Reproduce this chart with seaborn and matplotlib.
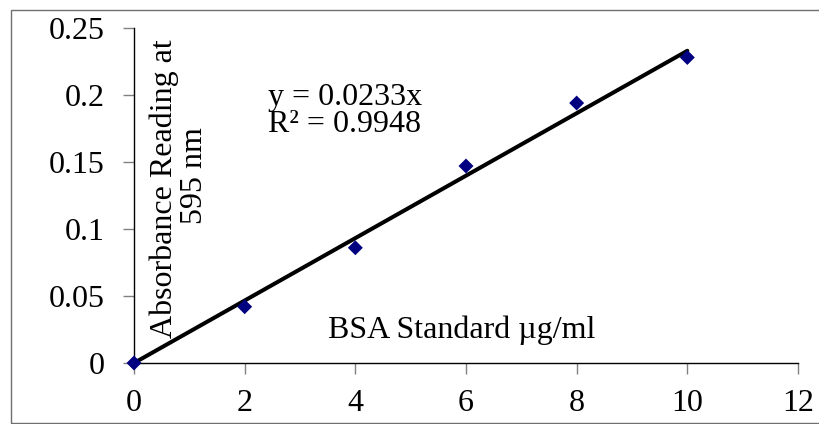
import matplotlib
matplotlib.use("Agg")
import matplotlib.pyplot as plt
import seaborn as sns
import pandas as pd
from matplotlib.patches import Rectangle

concentration = [0, 2, 4, 6, 8, 10]
absorbance = [0.0, 0.042, 0.086, 0.147, 0.194, 0.228]
slope = 0.0233
fit_x = [0, 10]
x_ticks = [0, 2, 4, 6, 8, 10, 12]
y_ticks = [0, 0.05, 0.1, 0.15, 0.2, 0.25]
y_tick_labels = ["0", "0.05", "0.1", "0.15", "0.2", "0.25"]

sns.set_style("white")
plt.rcParams['font.family'] = ['Liberation Serif', 'DejaVu Serif']
plt.rcParams['text.color'] = 'black'

df = pd.DataFrame({"x": concentration, "y": absorbance})
fit_df = pd.DataFrame({"x": fit_x, "y": [slope * v for v in fit_x]})

W, H = 820, 424
fig = plt.figure(figsize=(W / 100, H / 100), dpi=100)
ax = fig.add_axes([134 / W, 1 - 363 / H, (798 - 134) / W, (363 - 28) / H])

sns.lineplot(data=fit_df, x="x", y="y", ax=ax, color="black", linewidth=2.9,
             solid_capstyle="round", zorder=2)
sns.scatterplot(data=df, x="x", y="y", ax=ax, marker="D", color="#000080", s=58,
                edgecolor="none", zorder=3, clip_on=False)

ax.set_xlim(0, 12)
ax.set_ylim(0, 0.25)
ax.set_xticks(x_ticks)
ax.set_xticklabels([str(v) for v in x_ticks])
ax.set_yticks(y_ticks)
ax.set_yticklabels(y_tick_labels)
ax.set_xlabel("")
ax.set_ylabel("")

for s in ["top", "right"]:
    ax.spines[s].set_visible(False)
for s in ["left", "bottom"]:
    ax.spines[s].set_color("black")
    ax.spines[s].set_linewidth(1.0)

ax.tick_params(axis="both", direction="out", length=8, width=1, color="#808080",
               labelsize=23, labelcolor="black", bottom=True, left=True)
ax.tick_params(axis="y", pad=13)
ax.tick_params(axis="x", pad=11)


def px(x, y):
    return (x / W, 1 - y / H)


fig.text(*px(172, 189), "Absorbance Reading at", rotation=90, rotation_mode="anchor",
         ha="center", va="baseline", fontsize=23, color="black")
fig.text(*px(202, 176), "595 nm", rotation=90, rotation_mode="anchor",
         ha="center", va="baseline", fontsize=23, color="black")
fig.text(*px(268, 105), "y = 0.0233x", ha="left", va="baseline", fontsize=23, color="black")
fig.text(*px(268, 132), "R² = 0.9948", ha="left", va="baseline", fontsize=23, color="black")
fig.text(*px(462, 338), "BSA Standard µg/ml", ha="center", va="baseline", fontsize=23,
         color="black")

fig.patches.append(Rectangle((11.5 / W, 1 - 422.5 / H), 1.0, (422.5 - 9.5) / H,
                             transform=fig.transFigure, fill=False,
                             edgecolor="#707070", linewidth=1.0))

fig.savefig("out.png", dpi=100)
